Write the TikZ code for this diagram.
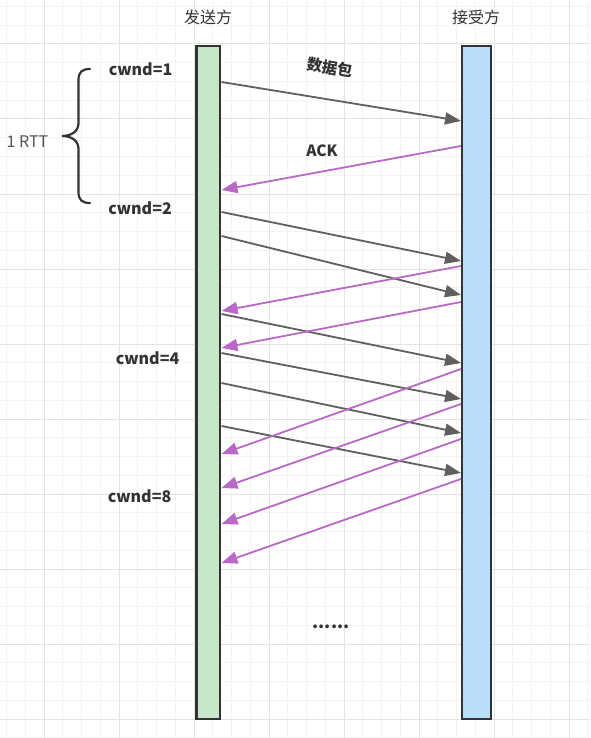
\documentclass[tikz,border=0pt]{standalone}
\usepackage{fontspec}
\setmainfont{Noto Sans CJK SC}
\usetikzlibrary{arrows.meta}
\definecolor{gridminor}{HTML}{F3F3F3}
\definecolor{gridmajor}{HTML}{E4E4E4}
\definecolor{sendfill}{HTML}{C8E6C9}
\definecolor{recvfill}{HTML}{BBDEFB}
\definecolor{edgecol}{HTML}{333333}
\definecolor{datacol}{HTML}{5F5F5F}
\definecolor{ackcol}{HTML}{BA68C8}
\definecolor{txtcol}{HTML}{333333}
\definecolor{rttcol}{HTML}{555555}
\begin{document}
\begin{tikzpicture}[x=1pt,y=-1pt,
  bar/.style={draw=edgecol, line width=2.5pt, rectangle, inner sep=0pt, outer sep=0pt, minimum width=24pt, minimum height=673pt},
  datarrow/.style={draw=datacol, line width=1.8pt, -{Triangle[length=16pt,width=12pt]}},
  ackarrow/.style={draw=ackcol, line width=1.8pt, -{Triangle[length=16pt,width=12pt]}},
  cw/.style={font=\bfseries\fontsize{16}{19}\selectfont, text=txtcol, anchor=base, inner sep=0pt},
  hdr/.style={font=\fontsize{16}{19}\selectfont, text=txtcol, inner sep=0pt},
  lbl/.style={font=\bfseries\fontsize{15.5}{18}\selectfont, text=txtcol, inner sep=0pt}
]
\useasboundingbox (0,0) rectangle (590,738);
\fill[white] (0,0) rectangle (590,738);
% grid
\foreach \k in {0,...,31} {
  \draw[gridminor, line width=1pt] ({6.5+18.75*\k},0) -- ({6.5+18.75*\k},738);
}
\foreach \k in {0,...,39} {
  \draw[gridminor, line width=1pt] (0,{6.5+18.75*\k}) -- (590,{6.5+18.75*\k});
}
\foreach \k in {0,...,7} {
  \draw[gridmajor, line width=1pt] ({44+75*\k},0) -- ({44+75*\k},738);
}
\foreach \k in {0,...,9} {
  \draw[gridmajor, line width=1pt] (0,{44+75*\k}) -- (590,{44+75*\k});
}
% bars
\node[bar, fill=sendfill, minimum width=23.5pt] (send) at (208.25,382.5) {};
\node[bar, fill=recvfill, minimum width=29pt] (recv) at (476.5,382.5) {};
% headers
\node[hdr] (sendlbl) at (208,17.5) {发送方};
\node[hdr] (recvlbl) at (476,17.5) {接受方};
% endpoints on sender (east edge) and receiver (west edge)
\foreach \n/\y in {d1/82,d2/212,d3/236,d4/314,d5/353,d6/383,d7/426,
                   a1/190,a2/311,a3/348,a4/454,a5/488,a6/524,a7/563}
  \coordinate (s\n) at (221.5,\y);
\foreach \n/\y in {d1/121,d2/261,d3/295,d4/363,d5/399,d6/433,d7/473,
                   a1/146,a2/266,a3/302,a4/369,a5/404,a6/439,a7/479}
  \coordinate (r\n) at (461,\y);
% data arrows
\foreach \n in {d1,d2,d3,d4,d5,d6,d7}
  \draw[datarrow] (s\n) -- (r\n);
% ack arrows
\foreach \n in {a1,a2,a3,a4,a5,a6,a7}
  \draw[ackarrow] (r\n) -- (s\n);
% labels
\node[lbl, rotate=-9] (pkt) at (330,67.5) {数据包};
\node[lbl, anchor=base] (ack) at (322,156.5) {ACK};
\node[cw] (c1) at (140.5,76) {cwnd=1};
\node[cw] (c2) at (140,214) {cwnd=2};
\node[cw] (c4) at (147.5,364) {cwnd=4};
\node[cw] (c8) at (139.5,502.5) {cwnd=8};
\node[font=\fontsize{16}{19}\selectfont, text=rttcol, anchor=base, inner sep=0pt] (rtt) at (27.5,148) {1 RTT};
\node[lbl, font=\bfseries\fontsize{17.5}{20}\selectfont, anchor=base] (dots) at (331,628) {......};
% brace
\draw[edgecol, line width=2.2pt, line cap=round]
  (90,69) .. controls (82,69) and (78.5,72) .. (78.5,80) -- (78.5,123)
  .. controls (78.5,131) and (72,136) .. (62,136)
  .. controls (72,136) and (78.5,141) .. (78.5,149) -- (78.5,192)
  .. controls (78.5,200) and (82,203) .. (90,203);
\end{tikzpicture}
\end{document}
